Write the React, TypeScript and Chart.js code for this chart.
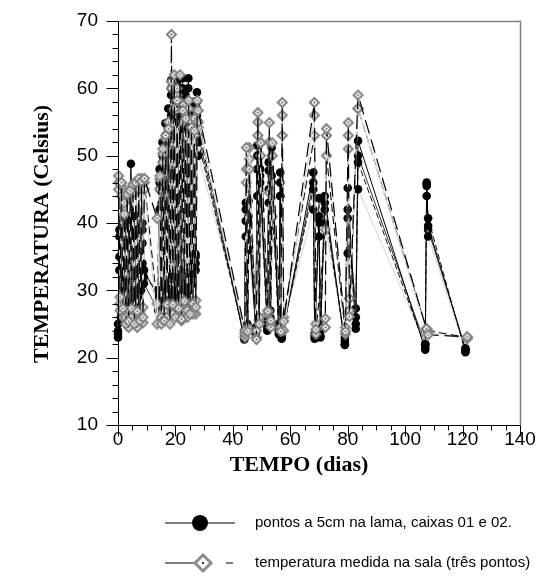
import { useEffect, useRef } from 'react';
import { Chart, registerables } from 'chart.js';

Chart.register(...registerables);

// Reading times (days) for the mud probes, boxes 01 and 02
const diasLama = [
  0, 0.5, 1, 1.5, 2, 2.5, 3, 3.5, 4, 4.5, 5, 5.5, 6, 6.5, 7, 7.5, 8, 8.5, 9,
  14, 14.5, 15, 15.5, 16, 16.5, 17, 17.5, 18, 18.5, 19, 19.5, 20, 20.5, 21, 21.5, 22, 22.5, 23, 23.5, 24, 24.5, 25, 25.5, 26, 26.5, 27, 27.5, 28,
  44, 44.5, 45, 45.5, 48, 48.5, 49, 49.5, 52, 52.5, 53, 53.5, 56, 56.5, 57,
  68, 68.5, 70, 70.5, 72,
  79, 80, 82.8, 83.6,
  107, 107.5, 108, 121,
];

const lamaCaixa01a = [
  23, 38, 27, 40, 28, 36, 29, 39, 30, 48.8, 29, 41, 28, 38, 30, 40, 31, 37, 33,
  29, 45, 28, 50, 30, 53, 31, 55, 32, 61.2, 30, 58, 31, 60.7, 32, 61.5, 33, 57, 31, 59, 30, 61.5, 31, 56, 32, 58, 34, 59.4, 55,
  22.7, 43, 25, 40, 24, 51.5, 26, 47, 25, 47.8, 27, 51.2, 24, 47.5, 22.8,
  47.5, 23.1, 40, 23, 44,
  21.9, 45.2, 24.3, 52.2,
  21.2, 46, 39.6, 21.2,
];

const lamaCaixa01b = [
  23.5, 35, 26, 37, 27, 34, 28, 41, 29, 38, 27, 36, 29, 40, 31, 37, 30, 39, 32,
  30, 48, 27, 52, 29, 54.8, 30, 57, 31, 59, 29, 60, 30, 58, 31, 57, 32, 60, 30, 56, 31, 58, 30, 55, 31, 57, 33, 58, 52,
  23.2, 40.3, 24.5, 43.3, 23.5, 48, 25, 46, 24, 45, 26, 47, 23.5, 44, 23.3,
  45, 22.8, 43.7, 23.2, 42,
  22.5, 40.7, 25, 49,
  21.5, 45.8, 40.7, 20.8,
];

const lamaCaixa02a = [
  24, 33, 26, 35, 28, 37, 27, 33, 29, 35, 28, 34, 30, 36, 29, 35, 31, 34, 33,
  28, 42, 29, 47, 31, 50, 30, 52, 31, 56, 32, 57, 31, 55, 30, 56, 32, 54, 31, 55, 32, 57, 31, 52, 33, 54, 35, 56, 50,
  24, 38, 25, 36, 24.5, 44, 26, 42, 25.5, 43, 27, 46, 25, 44, 24,
  42, 23.5, 38, 24, 40,
  23, 35.5, 26, 45,
  22, 44, 38, 21,
];

const lamaCaixa02b = [
  25, 39, 27, 36, 29, 41, 28, 38, 27, 40, 30, 37, 29, 41, 30, 38, 32, 40, 31,
  27, 46, 30, 49, 28, 51, 30, 54, 29, 60, 31, 59, 29, 61, 30, 59, 31, 61.5, 32, 58, 29, 60, 30, 57, 34, 57.5, 35.4, 57, 53,
  23, 42, 24, 41, 23.8, 50, 25, 48, 24.5, 49, 26, 50, 24, 46, 23,
  46, 23.5, 41, 24.5, 43,
  22, 42, 27.3, 50,
  22, 45.5, 39, 21.4,
];

// Reading times (days) for the three room thermometers
const diasSala = [
  0.2, 0.7, 1.2, 1.7, 2.2, 2.7, 3.2, 3.7, 4.2, 4.7, 5.2, 5.7, 6.2, 6.7, 7.2, 7.7, 8.2, 8.7, 9.2,
  13.6, 14.6, 15.1, 15.6, 16.1, 16.6, 17.1, 17.6, 18.1, 18.6, 19.1, 19.6, 20.1, 20.6, 21.1, 21.6, 22.1, 22.6, 23.1, 23.6, 24.1, 24.6, 25.1, 25.6, 26.1, 26.6, 27.1, 27.6, 27.9,
  44.2, 44.7, 45.2, 45.7, 48.2, 48.7, 49.2, 49.7, 52.2, 52.7, 53.2, 53.7, 56.7, 57.2, 57.7,
  68.4, 68.9, 72.2, 72.6,
  79.2, 80.2, 80.6, 83.6,
  107.4, 108, 121.6,
];

const salaPonto1 = [
  47, 29, 46, 27.3, 41.3, 25, 44.3, 25.4, 44.8, 27.3, 45.8, 25, 46, 26.9, 46.6, 25.5, 46.2, 26, 46.6,
  40.7, 47, 25, 51, 25.5, 53, 27.9, 54, 25, 68, 27.9, 62, 26, 58.2, 27.3, 62, 25.7, 56.7, 28.4, 55.5, 27, 58.2, 26.5, 54.2, 28, 53.7, 27.5, 58.2, 56.7,
  24, 51.2, 23.9, 48, 22.7, 56.4, 25, 51.9, 26.9, 54.9, 25.5, 51.9, 23.9, 57.9, 25.4,
  57.9, 24.2, 25.8, 54,
  23.9, 54.9, 26.1, 59,
  24.3, 23.4, 23.1,
];

const salaPonto2 = [
  46, 27, 44, 28.5, 43, 26, 44, 24.5, 45, 26, 44.5, 27, 45.5, 25.5, 45, 26.5, 46.6, 27.5, 45,
  25, 45, 26, 49, 27, 52.5, 26, 55, 28, 61, 26.5, 57, 27.5, 60, 28, 58, 26, 57.5, 27, 56, 26, 57, 27.5, 55, 26.5, 55.5, 28.5, 56.7, 55,
  23.5, 48, 24.5, 51.2, 23, 53, 26, 50, 27, 52, 24.5, 50, 24.5, 56, 24,
  56, 25, 24.5, 53,
  24.5, 53, 28.8, 57,
  24, 23.8, 22.8,
];

const salaPonto3 = [
  45, 28, 45.5, 26, 44, 27, 43.5, 25.5, 44, 25, 45, 26.2, 44.6, 24.5, 45.5, 27, 45.5, 25.2, 46,
  28, 46.5, 26.5, 50.3, 27, 51, 26, 53.5, 28, 60, 27, 56.7, 26.5, 59, 27, 57, 25.5, 55, 27.5, 53, 26.5, 55.5, 27, 52, 28.4, 53, 26.5, 56.7, 54.2,
  23, 46, 24, 49.5, 24, 55, 25.5, 51.9, 26.5, 44.5, 25, 41, 24, 53, 26,
  53, 23.5, 39, 50,
  23.5, 51, 27, 57,
  24.3, 24, 23,
];

const xTicks = [0, 20, 40, 60, 80, 100, 120, 140];
const yTicks = [10, 20, 30, 40, 50, 60, 70];
const tituloX = 'TEMPO (dias)';
const tituloY = 'TEMPERATURA (Celsius)';
const legendaLama = 'pontos a 5cm na lama, caixas 01 e 02.';
const legendaSala = 'temperatura medida na sala (três pontos)';

const SANS = '"Liberation Sans", Arial, sans-serif';
const SERIF = '"Liberation Serif", "Times New Roman", serif';

function diamondPath(g: CanvasRenderingContext2D, cx: number, cy: number, r: number) {
  g.beginPath();
  g.moveTo(cx, cy - r);
  g.lineTo(cx + r, cy);
  g.lineTo(cx, cy + r);
  g.lineTo(cx - r, cy);
  g.closePath();
}

// Grey hollow diamond with a dark centre, used as the room-series marker
function makeDiamond(r: number, lw: number): HTMLCanvasElement {
  const size = Math.ceil(2 * r + lw + 2);
  const c = document.createElement('canvas');
  c.width = size;
  c.height = size;
  const g = c.getContext('2d')!;
  const m = size / 2;
  diamondPath(g, m, m, r);
  g.fillStyle = '#ffffff';
  g.fill();
  g.lineWidth = lw;
  g.strokeStyle = '#808080';
  g.stroke();
  g.fillStyle = '#333333';
  g.fillRect(m - 0.8, m - 0.8, 1.6, 1.6);
  return c;
}

const decor = {
  id: 'decor',
  afterDraw(chart: any) {
    const { ctx, chartArea: a, scales } = chart;
    const xs = scales.x;
    const ys = scales.y;
    const L = Math.round(a.left) + 0.5;
    const R = Math.round(a.right) + 0.5;
    const T = Math.round(a.top) + 0.5;
    const B = Math.round(a.bottom) + 0.5;
    ctx.save();

    // grey frame on top and right
    ctx.strokeStyle = '#808080';
    ctx.lineWidth = 1.5;
    ctx.beginPath();
    ctx.moveTo(L, T);
    ctx.lineTo(R, T);
    ctx.lineTo(R, B);
    ctx.stroke();

    // black axes with major/minor ticks
    ctx.strokeStyle = '#000000';
    ctx.lineWidth = 1;
    ctx.beginPath();
    ctx.moveTo(L, T);
    ctx.lineTo(L, B);
    ctx.lineTo(R, B);
    for (let v = 0; v <= 140; v += 5) {
      const px = Math.round(xs.getPixelForValue(v)) + 0.5;
      const len = v % 20 === 0 ? 11 : 5;
      ctx.moveTo(px, B);
      ctx.lineTo(px, B + len);
    }
    for (let v = 10; v <= 70; v += 2) {
      const py = Math.round(ys.getPixelForValue(v)) + 0.5;
      const len = v % 10 === 0 ? 12 : 6;
      ctx.moveTo(L - len, py);
      ctx.lineTo(L, py);
    }
    ctx.stroke();

    // axis titles
    ctx.fillStyle = '#000000';
    ctx.font = `bold 22px ${SERIF}`;
    ctx.textAlign = 'center';
    ctx.textBaseline = 'middle';
    ctx.fillText(tituloX, 291, 457);
    ctx.save();
    ctx.translate(34, 226);
    ctx.rotate(-Math.PI / 2);
    ctx.fillText(tituloY, 0, 0);
    ctx.restore();

    // legend
    const y1 = 515;
    const y2 = 555;
    ctx.strokeStyle = '#000000';
    ctx.lineWidth = 1.2;
    ctx.beginPath();
    ctx.moveTo(157, y1);
    ctx.lineTo(227, y1);
    ctx.moveTo(157, y2);
    ctx.lineTo(186, y2);
    ctx.moveTo(218, y2);
    ctx.lineTo(225, y2);
    ctx.stroke();
    ctx.fillStyle = '#000000';
    ctx.beginPath();
    ctx.arc(192, y1, 8, 0, Math.PI * 2);
    ctx.fill();
    diamondPath(ctx, 195, y2, 8);
    ctx.fillStyle = '#ffffff';
    ctx.fill();
    ctx.lineWidth = 3;
    ctx.strokeStyle = '#8c8c8c';
    ctx.stroke();
    ctx.fillStyle = '#333333';
    ctx.fillRect(194, y2 - 1, 2, 2);

    ctx.fillStyle = '#000000';
    ctx.font = `15px ${SANS}`;
    ctx.textAlign = 'left';
    ctx.textBaseline = 'middle';
    ctx.fillText(legendaLama, 247, y1);
    ctx.fillText(legendaSala, 247, y2);
    ctx.restore();
  },
};

export default function App() {
  const canvasRef = useRef<HTMLCanvasElement | null>(null);

  useEffect(() => {
    if (!canvasRef.current) return;
    const diamond = makeDiamond(4.5, 2);
    const pts = (xs: number[], ys: number[]) => xs.map((x, i) => ({ x, y: ys[i] }));

    const lama = (label: string, ys: number[], color: string, dash: number[]) => ({
      label,
      data: pts(diasLama, ys),
      showLine: true,
      borderColor: color,
      borderWidth: 1,
      borderDash: dash,
      pointStyle: 'circle',
      pointRadius: 4.3,
      pointBackgroundColor: '#000000',
      pointBorderColor: '#000000',
      pointBorderWidth: 0,
      clip: false,
    });
    const sala = (label: string, ys: number[], color: string, dash: number[]) => ({
      label,
      data: pts(diasSala, ys),
      showLine: true,
      borderColor: color,
      borderWidth: 1.2,
      borderDash: dash,
      pointStyle: diamond,
      pointRadius: 5,
      clip: false,
    });

    const chart = new Chart(canvasRef.current, {
      type: 'scatter',
      data: {
        datasets: [
          sala('sala 1', salaPonto1, '#000000', [14, 6]),
          sala('sala 2', salaPonto2, '#dcdcdc', []),
          sala('sala 3', salaPonto3, '#1a1a1a', [8, 4]),
          lama('caixa 01 a', lamaCaixa01a, '#000000', []),
          lama('caixa 01 b', lamaCaixa01b, '#111111', [6, 3]),
          lama('caixa 02 a', lamaCaixa02a, '#d4d4d4', []),
          lama('caixa 02 b', lamaCaixa02b, '#3a3a3a', []),
        ] as any,
      },
      options: {
        responsive: true,
        maintainAspectRatio: false,
        animation: false,
        events: [],
        layout: { padding: { top: 13, right: 32, bottom: 0, left: 0 } },
        plugins: { legend: { display: false }, tooltip: { enabled: false } },
        scales: {
          x: {
            type: 'linear',
            min: 0,
            max: 140,
            afterBuildTicks: (s: any) => {
              s.ticks = xTicks.map((value) => ({ value }));
            },
            ticks: { font: { family: SANS, size: 19 }, color: '#000000', padding: 3 },
            grid: { display: false, drawTicks: false },
            border: { display: false },
            afterFit: (s: any) => {
              s.height = 149;
              s.paddingLeft = 0;
              s.paddingRight = 0;
            },
          },
          y: {
            type: 'linear',
            min: 10,
            max: 70,
            afterBuildTicks: (s: any) => {
              s.ticks = yTicks.map((value) => ({ value }));
            },
            ticks: { font: { family: SANS, size: 19 }, color: '#000000', padding: 20 },
            grid: { display: false, drawTicks: false },
            border: { display: false },
            afterFit: (s: any) => {
              s.width = 110;
              s.paddingTop = 0;
              s.paddingBottom = 0;
            },
          },
        },
      } as any,
      plugins: [decor],
    });
    return () => chart.destroy();
  }, []);

  return (
    <div style={{ position: 'relative', width: 544, height: 566 }}>
      <canvas ref={canvasRef} />
    </div>
  );
}
